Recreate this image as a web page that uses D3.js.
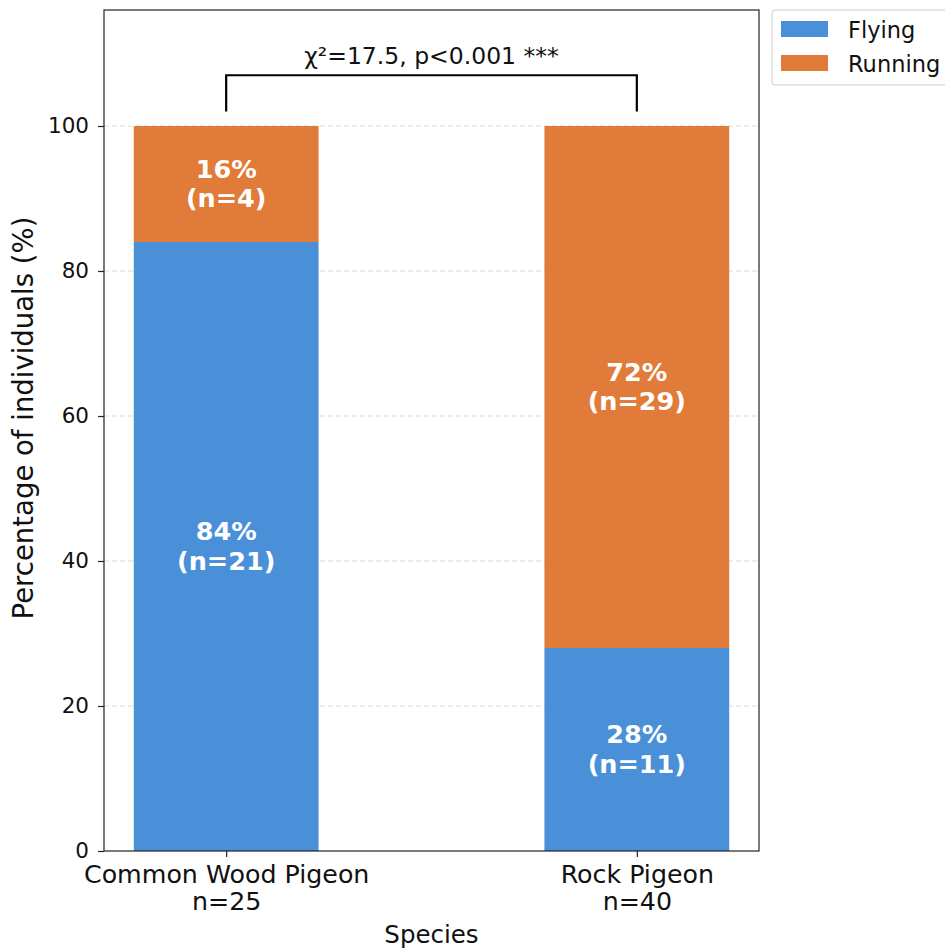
<!DOCTYPE html>
<html lang="en">
<head>
<meta charset="UTF-8">
<title>Pigeon escape behaviour</title>
<script src="https://cdn.jsdelivr.net/npm/d3@7"></script>
<style>
  body { margin: 0; background: #fff; }
  svg text { font-family: "DejaVu Sans", sans-serif; }
  .axis path, .axis line { stroke: #222; stroke-width: 1.2; }
  .axis text { fill: #111; }
</style>
</head>
<body>
<script>
// data
const species = ["Common Wood Pigeon", "Rock Pigeon"];
const totals = [25, 40];
const flyingCounts = [21, 11];
const runningCounts = [4, 29];
const behaviours = ["Flying", "Running"];
const colours = ["#4a90d9", "#e07b39"];
const yTicks = [0, 20, 40, 60, 80, 100];
const statLabel = "χ²=17.5, p<0.001 ***";

const w = 945, h = 951;
const pLeft = 104, pRight = 759, pTop = 10, pBottom = 851;

const svg = d3.select("body").append("svg").attr("width", w).attr("height", h);

const xScale = d3.scaleLinear().domain([-0.2975, 1.2975]).range([pLeft, pRight]);
const yScale = d3.scaleLinear().domain([0, 116]).range([pBottom, pTop]);
const barW = 0.45;

// round half to even (27.5 -> 28, 72.5 -> 72)
const roundEven = v => {
  const f = Math.floor(v), diff = v - f;
  if (Math.abs(diff - 0.5) < 1e-9) return f % 2 === 0 ? f : f + 1;
  return Math.round(v);
};

// grid
svg.append("g").selectAll("line")
  .data(yTicks.filter(d => d > 0))
  .enter().append("line")
  .attr("x1", pLeft).attr("x2", pRight)
  .attr("y1", d => yScale(d)).attr("y2", d => yScale(d))
  .attr("stroke", "#d0d0d0").attr("stroke-opacity", 0.8)
  .attr("stroke-dasharray", "5,3");

// stacked percentages
const rows = species.map((s, i) => {
  const f = roundEven(flyingCounts[i] / totals[i] * 100);
  const r = roundEven(runningCounts[i] / totals[i] * 100);
  return [
    { i, y0: 0, y1: f, pct: f, n: flyingCounts[i], c: 0 },
    { i, y0: f, y1: f + r, pct: r, n: runningCounts[i], c: 1 }
  ];
}).flat();

svg.append("g").selectAll("rect")
  .data(rows)
  .enter().append("rect")
  .attr("x", d => xScale(d.i - barW / 2))
  .attr("width", d => xScale(barW) - xScale(0))
  .attr("y", d => yScale(d.y1))
  .attr("height", d => yScale(d.y0) - yScale(d.y1))
  .attr("fill", d => colours[d.c]);

const lab = svg.append("g").selectAll("text")
  .data(rows)
  .enter().append("text")
  .attr("x", d => xScale(d.i))
  .attr("y", d => yScale((d.y0 + d.y1) / 2))
  .attr("text-anchor", "middle")
  .attr("fill", "#fff")
  .attr("font-weight", "bold")
  .attr("font-size", "25.5px");
lab.append("tspan").attr("x", d => xScale(d.i)).attr("dy", "-0.25em")
  .text(d => d.pct + "%");
lab.append("tspan").attr("x", d => xScale(d.i)).attr("dy", "1.17em")
  .text(d => "(n=" + d.n + ")");

// axes
const xAxis = d3.axisBottom(xScale).tickValues([0, 1]).tickSize(6).tickFormat("");
const gx = svg.append("g").attr("class", "axis")
  .attr("transform", "translate(0," + pBottom + ")")
  .call(xAxis);
gx.select(".domain").remove();
gx.selectAll(".tick").each(function (d) {
  const t = d3.select(this).append("text")
    .attr("text-anchor", "middle").attr("y", 32).attr("font-size", "25.3px");
  t.append("tspan").attr("x", 0).text(species[d]);
  t.append("tspan").attr("x", 0).attr("dy", "27").text("n=" + totals[d]);
});

const yAxis = d3.axisLeft(yScale).tickValues(yTicks).tickSize(6).tickPadding(9);
const gy = svg.append("g").attr("class", "axis")
  .attr("transform", "translate(" + pLeft + ",0)")
  .call(yAxis);
gy.select(".domain").remove();
gy.selectAll("text").attr("font-size", "21.5px");

// frame
svg.append("rect")
  .attr("x", pLeft).attr("y", pTop)
  .attr("width", pRight - pLeft).attr("height", pBottom - pTop)
  .attr("fill", "none").attr("stroke", "#222").attr("stroke-width", 1.2);

svg.append("text")
  .attr("x", (pLeft + pRight) / 2).attr("y", 943)
  .attr("text-anchor", "middle").attr("font-size", "24.5px").attr("fill", "#111")
  .text("Species");

svg.append("text")
  .attr("transform", "translate(33,418) rotate(-90)")
  .attr("text-anchor", "middle").attr("font-size", "27.5px").attr("fill", "#111")
  .text("Percentage of individuals (%)");

// significance bracket
const bY = 107, bLow = 102;
svg.append("path")
  .attr("d", "M" + xScale(0) + "," + yScale(bLow) + "V" + yScale(bY) +
             "H" + xScale(1) + "V" + yScale(bLow))
  .attr("fill", "none").attr("stroke", "#000").attr("stroke-width", 2.2);
svg.append("text")
  .attr("x", (xScale(0) + xScale(1)) / 2).attr("y", 64)
  .attr("text-anchor", "middle").attr("font-size", "23.5px").attr("fill", "#111")
  .text(statLabel);

// legend
const lg = svg.append("g").attr("transform", "translate(772,10)");
lg.append("rect").attr("width", 185).attr("height", 75).attr("rx", 3)
  .attr("fill", "#fff").attr("stroke", "#ccc");
lg.selectAll(".it").data(behaviours).enter().append("g")
  .attr("transform", (d, i) => "translate(0," + (i * 34) + ")")
  .each(function (d, i) {
    const g = d3.select(this);
    g.append("rect").attr("x", 9).attr("y", 11).attr("width", 47).attr("height", 16)
      .attr("fill", colours[i]);
    g.append("text").attr("x", 76).attr("y", 28).attr("font-size", "22.5px")
      .attr("fill", "#111").text(d);
  });
</script>
</body>
</html>
